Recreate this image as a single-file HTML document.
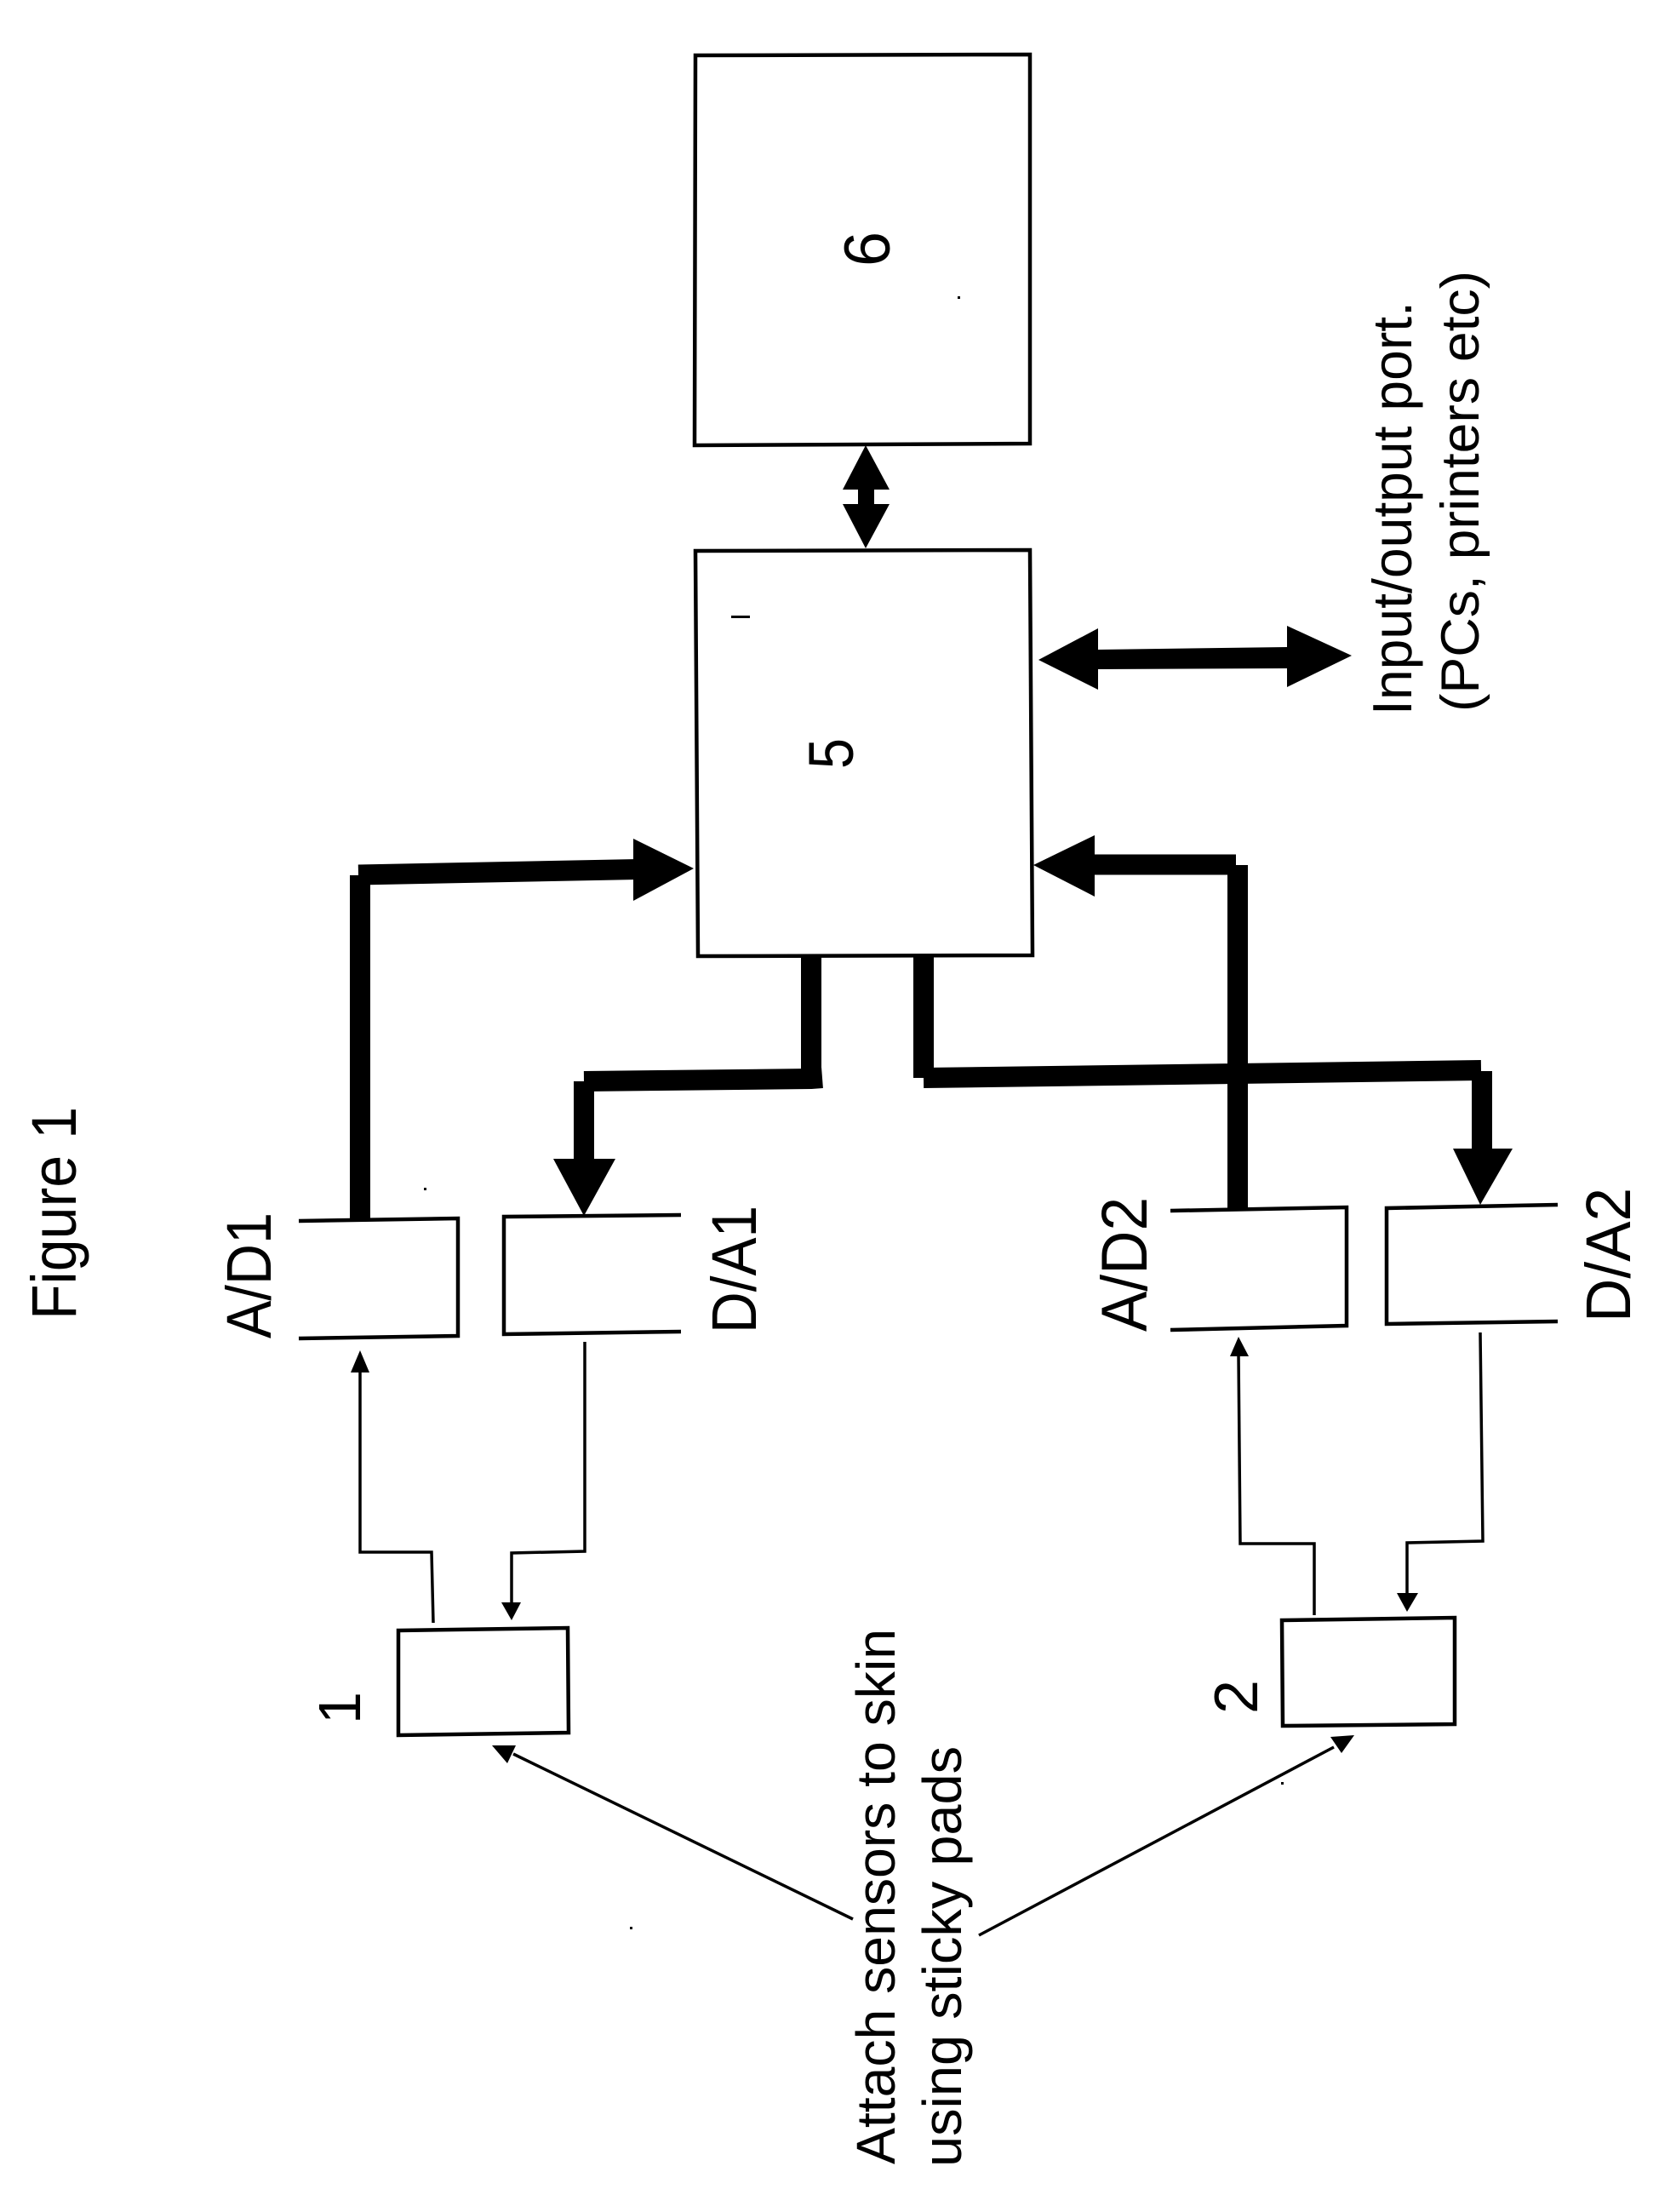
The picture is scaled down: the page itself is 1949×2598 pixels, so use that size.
<!DOCTYPE html>
<html><head><meta charset="utf-8"><style>html,body{margin:0;padding:0;background:#fff}svg{display:block}text{font-family:"Liberation Sans",sans-serif;fill:#000}</style></head>
<body>
<svg xmlns="http://www.w3.org/2000/svg" width="1949" height="2598" viewBox="0 0 1949 2598">
<rect width="1949" height="2598" fill="#fff"/>
<g fill="none" stroke="#000" stroke-width="4.5">
<path d="M817 65L1210 64V521L816 523Z"/>
<path d="M817 647L1210 646L1213 1122L820 1123Z"/>
<path d="M468 1915L667 1912L668 2035L468 2038Z"/>
<path d="M1506 1903L1709 1900V2025L1507 2027Z"/>
<path d="M351 1434L538 1431V1569L351 1572"/>
<path d="M800 1427L592 1429V1567L800 1564"/>
<path d="M1375 1422L1582 1418V1557L1375 1562"/>
<path d="M1830 1415L1629 1419V1555L1830 1552"/>
<g stroke-width="3.5">
<path d="M509 1906L507 1823H423V1605"/>
<path d="M687 1576V1822L601 1824V1885"/>
<path d="M1544 1897V1813H1457L1455 1590"/>
<path d="M1739 1565L1742 1810L1653 1812V1875"/>
<path d="M1002 2254L603 2060"/>
<path d="M1150 2273L1567 2052"/>
</g>
</g>
<g fill="#000">
<path d="M423 1586L412 1612H434Z"/>
<path d="M601 1903L589 1882H612Z"/>
<path d="M1455 1570L1445 1593H1467Z"/>
<path d="M1653 1893L1641 1871H1666Z"/>
<path d="M578 2050H606L596 2071Z"/>
<path d="M1591 2038L1563 2040L1576 2059Z"/>
<path d="M1017 523L1045 575H1027V592H1045L1017 644L990 592H1008V575H990Z"/>
<path d="M1220 775L1290 738V763L1512 760V735L1588 770L1512 807V785L1290 786V810Z"/>
</g>
<g fill="none" stroke="#000" stroke-width="24">
<path d="M423 1433V1028"/>
<path d="M421 1027.5L750 1021"/>
<path d="M1454 1422V1016"/>
<path d="M1452 1015.5H1280"/>
<path d="M953 1122V1267"/>
<path d="M966 1266L953 1267L686 1270"/>
<path d="M686 1270V1365"/>
<path d="M1085 1122V1266"/>
<path d="M1085 1266L1740 1257"/>
<path d="M1741 1258V1355"/>
</g>
<g fill="#000">
<path d="M815 1020L744 985V1058Z"/>
<path d="M1214 1016L1286 981V1053Z"/>
<path d="M686 1428L650 1361H723Z"/>
<path d="M1739 1415L1707 1349H1777Z"/>
<rect x="859" y="723" width="22" height="3"/>
<rect x="1125" y="348" width="3" height="3"/>
<rect x="498" y="1395" width="3" height="3"/>
<rect x="740" y="2263" width="3" height="3"/>
<rect x="1505" y="2093" width="3" height="3"/>
</g>
<g>
<text transform="translate(89 1550) rotate(-90)" font-size="74" textLength="250" lengthAdjust="spacingAndGlyphs">Figure 1</text>
<text transform="translate(318 1572) rotate(-90)" font-size="74" textLength="148" lengthAdjust="spacingAndGlyphs">A/D1</text>
<text transform="translate(888 1566) rotate(-90)" font-size="74" textLength="150" lengthAdjust="spacingAndGlyphs">D/A1</text>
<text transform="translate(1347 1564) rotate(-90)" font-size="76" textLength="158" lengthAdjust="spacingAndGlyphs">A/D2</text>
<text transform="translate(1915 1553) rotate(-90)" font-size="74" textLength="158" lengthAdjust="spacingAndGlyphs">D/A2</text>
<text transform="translate(423 2025) rotate(-90)" font-size="70" textLength="38" lengthAdjust="spacingAndGlyphs">1</text>
<text transform="translate(1477 2013) rotate(-90)" font-size="72" textLength="40" lengthAdjust="spacingAndGlyphs">2</text>
<text transform="translate(1002 903) rotate(-90)" font-size="74" textLength="36" lengthAdjust="spacingAndGlyphs">5</text>
<text transform="translate(1045 313) rotate(-90)" font-size="76" textLength="41" lengthAdjust="spacingAndGlyphs">6</text>
<text transform="translate(1658 840) rotate(-90)" font-size="65" textLength="486" lengthAdjust="spacingAndGlyphs">Input/output port.</text>
<text transform="translate(1737 836) rotate(-90)" font-size="63" textLength="518" lengthAdjust="spacingAndGlyphs">(PCs, printers etc)</text>
<text transform="translate(1051 2542) rotate(-90)" font-size="64" textLength="629" lengthAdjust="spacingAndGlyphs">Attach sensors to skin</text>
<text transform="translate(1129 2545) rotate(-90)" font-size="64" textLength="494" lengthAdjust="spacingAndGlyphs">using sticky pads</text>
</g>
</svg>
</body></html>
